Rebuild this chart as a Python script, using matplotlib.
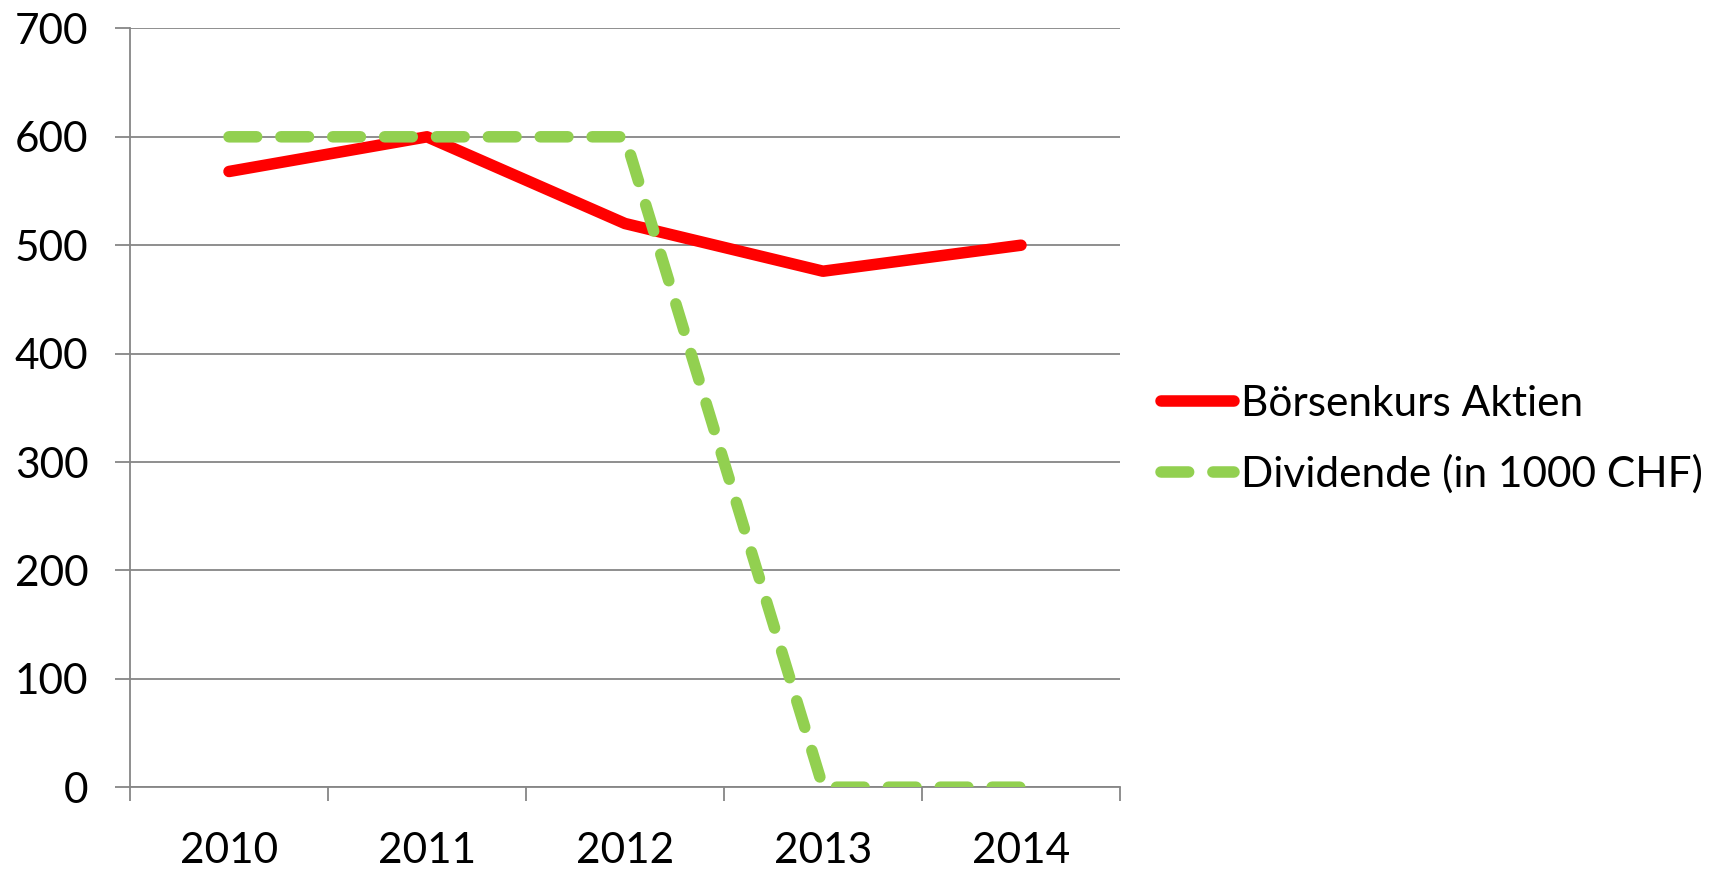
import matplotlib
matplotlib.use("Agg")
import matplotlib.pyplot as plt
import numpy as np

years = ["2010", "2011", "2012", "2013", "2014"]
kurs = [568, 600, 520, 476, 500]
dividende = [600, 600, 600, 0, 0]
labels = ["Börsenkurs Aktien", "Dividende (in 1000 CHF)"]
yticks = [0, 100, 200, 300, 400, 500, 600, 700]

plt.rcParams['font.family'] = ['Lato', 'DejaVu Sans']
FS = 30.5
W, H = 1712, 869
fig = plt.figure(figsize=(W / 100, H / 100), dpi=100)
ax = fig.add_axes([130 / W, 1 - 787.2 / H, (1120 - 130) / W, (787.2 - 28.4) / H])

x = np.arange(len(years))
grid_c = "#868686"

ax.plot(x, kurs, color="#FF0000", lw=8.3, solid_capstyle="round",
        solid_joinstyle="round", label=labels[0], zorder=3)
ax.plot(x, dividende, color="#92D050", lw=8.3, linestyle=(0, (2.4, 2.1)),
        dash_capstyle="round", dash_joinstyle="round", label=labels[1], zorder=4)

ax.set_xlim(-0.5, len(years) - 0.5)
ax.set_ylim(0, 700)
ax.set_yticks(yticks)
ax.set_yticklabels([str(v) for v in yticks])
ax.yaxis.grid(True, color=grid_c, lw=1.3)
ax.set_axisbelow(True)

ax.set_xticks(np.arange(-0.5, len(years), 1.0))
ax.set_xticklabels([])
ax.set_xticks(x, minor=True)
ax.set_xticklabels(years, minor=True)
ax.tick_params(axis="x", which="major", length=10, width=1.3, color=grid_c)
ax.tick_params(axis="x", which="minor", length=0, pad=32, labelsize=FS)
ax.tick_params(axis="y", length=11, width=1.3, color=grid_c, pad=19, labelsize=FS)

for s in ["top", "right"]:
    ax.spines[s].set_visible(False)
for s in ["left", "bottom"]:
    ax.spines[s].set_color(grid_c)
    ax.spines[s].set_linewidth(1.3)

leg = fig.legend(loc="center left", bbox_to_anchor=(1161 / W, 1 - 439 / H),
                 frameon=False, fontsize=FS, handlelength=1.72,
                 handletextpad=0.16, labelspacing=0.74, borderpad=0,
                 borderaxespad=0)

fig.savefig("out.png", dpi=100)
